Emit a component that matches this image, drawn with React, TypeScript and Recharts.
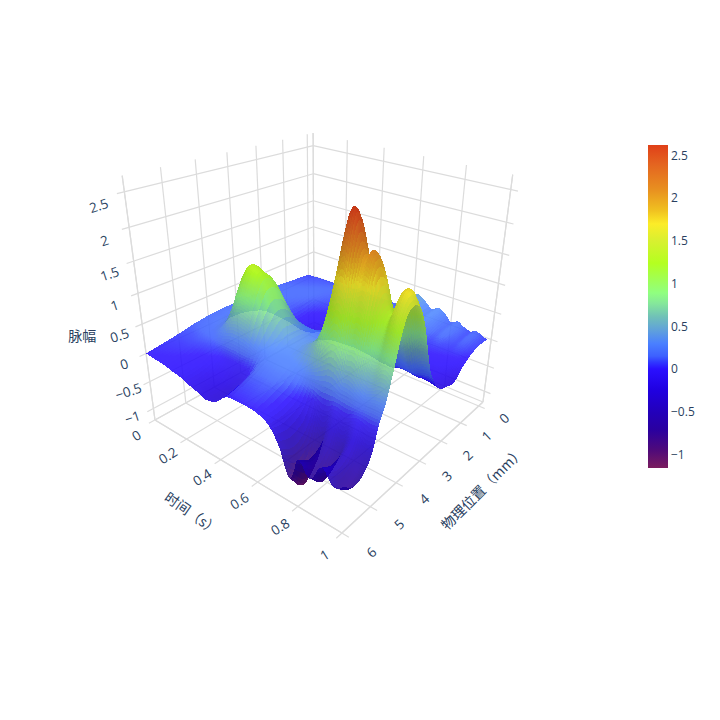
import { Bar, BarChart, Scatter, ScatterChart, XAxis, YAxis } from 'recharts'

// grid of the surface: rows follow times, columns follow positions
const times = [0, 0.05, 0.1, 0.15, 0.2, 0.24, 0.27, 0.3, 0.34, 0.4, 0.46, 0.52, 0.58, 0.64, 0.68, 0.72, 0.74, 0.76, 0.78, 0.8, 0.82, 0.84, 0.86, 0.88, 0.9, 0.92, 0.94, 0.96, 0.98, 1]
const positions = [0, 0.4, 0.8, 1.2, 1.6, 2, 2.4, 2.8, 3, 3.2, 3.4, 3.6, 3.8, 4, 4.2, 4.4, 4.6, 4.8, 5, 5.2, 5.6, 6]
const amplitude = [
  [.08, .1, .12, .14, .15, .16, .18, .18, .18, .18, .18, .18, .17, .17, .15, .14, .12, .1, .08, .06, .03, 0],
  [.09, .11, .13, .15, .16, .17, .18, .19, .2, .2, .2, .21, .2, .2, .18, .16, .14, .1, .08, .05, .02, -.02],
  [.1, .12, .14, .16, .16, .16, .18, .2, .2, .22, .23, .24, .24, .24, .22, .19, .16, .12, .08, .05, 0, -.03],
  [.1, .13, .15, .16, .15, .14, .16, .19, .22, .25, .3, .34, .36, .36, .3, .25, .19, .12, .06, .01, -.04, -.07],
  [.11, .14, .15, .15, .13, .1, .12, .16, .26, .4, .62, .78, .86, .86, .66, .48, .3, .11, .03, -.03, -.08, -.1],
  [.12, .15, .14, .12, .07, .03, .05, .14, .3, .52, .82, 1.06, 1.18, 1.2, 1.02, .74, .42, .1, -.02, -.1, -.16, -.15],
  [.13, .15, .13, .09, .01, -.06, -.03, .14, .32, .58, .9, 1.17, 1.31, 1.33, 1.12, .82, .46, .1, -.05, -.15, -.22, -.18],
  [.14, .15, .13, .07, -.03, -.1, -.06, .12, .3, .56, .86, 1.12, 1.26, 1.28, 1.08, .8, .45, .1, -.07, -.18, -.26, -.21],
  [.15, .16, .13, .06, -.04, -.13, -.09, .1, .3, .54, .85, 1.08, 1.18, 1.18, 1, .74, .42, .09, -.1, -.22, -.3, -.26],
  [.14, .16, .13, .09, .01, -.04, 0, .14, .28, .4, .55, .68, .74, .72, .6, .46, .3, .12, -.04, -.12, -.2, -.2],
  [.13, .15, .14, .14, .12, .12, .16, .2, .26, .3, .36, .42, .44, .44, .38, .33, .28, .24, .18, .12, .04, -.02],
  [.13, .16, .17, .18, .18, .18, .2, .22, .24, .27, .31, .34, .36, .36, .34, .31, .28, .26, .2, .14, .07, 0],
  [.18, .22, .2, .16, .16, .14, .17, .2, .23, .3, .36, .42, .45, .46, .41, .36, .29, .26, .2, .14, .07, 0],
  [.44, .46, .42, .2, .12, .1, .12, .17, .24, .37, .52, .66, .74, .76, .66, .5, .34, .2, .08, .02, -.04, -.05],
  [.38, .38, .34, .16, .09, .05, .08, .15, .28, .52, .8, 1.06, 1.22, 1.25, 1.05, .78, .45, .15, -.03, -.12, -.19, -.16],
  [.26, .26, .23, .11, .03, -.03, 0, .13, .33, .73, 1.22, 1.67, 1.93, 1.98, 1.65, 1.16, .61, .1, -.23, -.42, -.53, -.41],
  [.3, .3, .26, .09, .02, -.06, -.03, .12, .36, .84, 1.43, 1.98, 2.3, 2.37, 1.96, 1.37, .7, .07, -.43, -.71, -.87, -.65],
  [.32, .32, .28, .07, -.01, -.08, -.05, .11, .38, .92, 1.59, 2.21, 2.55, 2.62, 2.19, 1.52, .77, .06, -.56, -.91, -1.1, -.81],
  [.28, .28, .24, .07, -.02, -.09, -.06, .11, .37, .9, 1.55, 2.15, 2.5, 2.57, 2.13, 1.48, .75, .07, -.47, -.78, -.95, -.7],
  [.22, .22, .19, .06, -.03, -.1, -.07, .1, .36, .86, 1.4, 1.9, 2.16, 2.2, 1.82, 1.27, .65, .09, -.25, -.45, -.57, -.43],
  [.14, .14, .12, .05, -.03, -.1, -.05, .14, .44, .92, 1.42, 1.8, 2, 1.98, 1.6, 1.05, .5, .09, -.27, -.48, -.61, -.46],
  [.18, .18, .15, .05, -.03, -.1, -.04, .16, .48, 1, 1.55, 1.93, 2.12, 2.08, 1.65, 1.08, .5, .08, -.38, -.65, -.8, -.59],
  [.2, .2, .17, .05, -.04, -.11, -.04, .16, .47, .97, 1.5, 1.85, 2.02, 1.97, 1.56, 1, .46, .07, -.41, -.68, -.83, -.62],
  [.15, .15, .12, .04, -.05, -.13, -.05, .15, .42, .85, 1.27, 1.56, 1.68, 1.6, 1.25, .8, .38, .08, -.32, -.55, -.68, -.51],
  [.12, .12, .1, .03, -.06, -.14, -.06, .14, .38, .76, 1.1, 1.33, 1.42, 1.33, 1.04, .66, .32, .09, -.2, -.37, -.47, -.36],
  [.1, .1, .08, .02, -.07, -.15, -.07, .13, .36, .72, 1.03, 1.24, 1.31, 1.23, .96, .62, .3, .09, -.19, -.35, -.45, -.35],
  [.14, .14, .11, .01, -.09, -.17, -.07, .2, .54, .95, 1.26, 1.45, 1.48, 1.38, 1.07, .68, .33, .09, -.27, -.48, -.61, -.46],
  [.13, .13, .1, 0, -.13, -.2, -.08, .24, .66, 1.12, 1.45, 1.66, 1.7, 1.58, 1.22, .78, .36, .08, -.34, -.58, -.72, -.54],
  [.09, .09, .06, -.03, -.18, -.22, -.1, .26, .68, 1.14, 1.47, 1.67, 1.7, 1.58, 1.22, .78, .36, .08, -.33, -.56, -.7, -.53],
  [.07, .07, .03, -.08, -.25, -.22, -.12, .24, .62, 1.05, 1.36, 1.5, 1.52, 1.42, 1.1, .7, .33, .09, -.27, -.48, -.61, -.46],
]

const timeTicks = [0, 0.2, 0.4, 0.6, 0.8, 1]
const positionTicks = [0, 1, 2, 3, 4, 5, 6]
const amplitudeTicks = [-1, -0.5, 0, 0.5, 1, 1.5, 2, 2.5]
const colorZ = [-1.16, -0.95, -0.71, -0.52, -0.25, 0, 0.08, 0.15, 0.3, 0.45, 0.61, 0.77, 0.89, 1.24, 1.5, 1.7, 1.86, 2.1, 2.4, 2.62]
const colorHex = ['#7a1c5e', '#4f0a7a', '#2a00a0', '#2300b8', '#2000e0', '#2a10ff', '#3038ff', '#3d60ff', '#4a80ff', '#5fa0dc', '#70c0b8', '#85e89a', '#90ff80', '#b4ff20', '#d8f030', '#fcec28', '#f0c020', '#e89020', '#e46420', '#e04018']

const TICK_FONT = '"Open Sans", sans-serif'
const CJK_FONT = '"Noto Sans CJK SC", "Open Sans", sans-serif'
const INK = '#2a3f5f'
const GRID = '#dcdcdc'
const STEPS_T = 3
const STEPS_P = 8
const OPACITY = 0.88

const sOf = (t: number) => t
const rOf = (p: number) => 0.04 + 0.16 * p
const qOf = (z: number) => (z + 1.22) / 3.94

// camera fitted on the corners of the box
function project(s: number, r: number, q: number) {
  const w = 1 - 0.1486 * s - 0.2083 * r - 0.1313 * q
  return {
    x: (97.2 * s - 191.3 * r - 42 * q + 314) / w,
    y: (10.3 * s + 0.5 * r - 216.5 * q + 332) / w,
    w,
  }
}

const rgbStops = colorHex.map(h => [1, 3, 5].map(i => parseInt(h.slice(i, i + 2), 16)))
function colorAt(z: number, shade: number) {
  let i = 0
  while (i < colorZ.length - 2 && z > colorZ[i + 1]) i++
  const k = Math.max(0, Math.min(1, (z - colorZ[i]) / (colorZ[i + 1] - colorZ[i])))
  const c = rgbStops[i].map((v, n) => Math.min(255, Math.round((v + (rgbStops[i + 1][n] - v) * k) * shade)))
  return `rgb(${c[0]},${c[1]},${c[2]})`
}

// lighting per grid node
const shades = amplitude.map((row, i) =>
  row.map((_, j) => {
    const i0 = Math.max(0, i - 1), i1 = Math.min(times.length - 1, i + 1)
    const j0 = Math.max(0, j - 1), j1 = Math.min(positions.length - 1, j + 1)
    const ds = (qOf(amplitude[i1][j]) - qOf(amplitude[i0][j])) / (sOf(times[i1]) - sOf(times[i0]))
    const dr = (qOf(amplitude[i][j1]) - qOf(amplitude[i][j0])) / (rOf(positions[j1]) - rOf(positions[j0]))
    const len = Math.hypot(ds, dr, 1)
    const dot = (-ds * 0.25 - dr * 0.25 + 0.93) / len
    return 0.74 + 0.3 * Math.max(0, dot)
  }),
)

// curved patch between grid values, same idea as a smooth line type on a Line
function cubic(xs: number[], value: (k: number) => number, i: number, u: number) {
  const h = xs[i + 1] - xs[i]
  const slope = (k: number) => {
    const a = Math.max(0, k - 1), b = Math.min(xs.length - 1, k + 1)
    return (value(b) - value(a)) / (xs[b] - xs[a])
  }
  const u2 = u * u, u3 = u2 * u
  return (2 * u3 - 3 * u2 + 1) * value(i) + (u3 - 2 * u2 + u) * slope(i) * h + (3 * u2 - 2 * u3) * value(i + 1) + (u3 - u2) * slope(i + 1) * h
}
const patchZ = (i: number, j: number, u: number, v: number) =>
  cubic(times, k => cubic(positions, l => amplitude[k][l], j, v), i, u)

const facets: any[] = []
for (let i = 0; i < times.length - 1; i++) {
  for (let j = 0; j < positions.length - 1; j++) {
    const verts: any[][] = []
    for (let a = 0; a <= STEPS_T; a++) {
      verts.push([])
      for (let b = 0; b <= STEPS_P; b++) {
        const u = a / STEPS_T, v = b / STEPS_P
        const z = patchZ(i, j, u, v)
        const t = times[i] + (times[i + 1] - times[i]) * u
        const p = positions[j] + (positions[j + 1] - positions[j]) * v
        const shade = (shades[i][j] * (1 - u) + shades[i + 1][j] * u) * (1 - v) + (shades[i][j + 1] * (1 - u) + shades[i + 1][j + 1] * u) * v
        verts[a].push({ ...project(sOf(t), rOf(p), qOf(z)), z, shade })
      }
    }
    for (let a = 0; a < STEPS_T; a++) {
      for (let b = 0; b < STEPS_P; b++) {
        const c = [verts[a][b], verts[a + 1][b], verts[a + 1][b + 1], verts[a][b + 1]]
        const mean = (key: string) => c.reduce((s, n) => s + n[key], 0) / 4
        facets.push({ x: mean('x'), y: mean('y'), corners: c, fill: colorAt(mean('z'), mean('shade')), depth: mean('w') })
      }
    }
  }
}
facets.sort((a, b) => b.depth - a.depth)

const seg = (a: number[], b: number[]) => {
  const p = project(a[0], a[1], a[2])
  const e = project(b[0], b[1], b[2])
  return { x: p.x, y: p.y, dx: e.x - p.x, dy: e.y - p.y }
}
const gridLines = [
  ...timeTicks.flatMap(t => [seg([sOf(t), 0, 0], [sOf(t), 1.03, 0]), seg([sOf(t), 0, 0], [sOf(t), 0, 1])]),
  ...positionTicks.flatMap(p => [seg([0, rOf(p), 0], [1.03, rOf(p), 0]), seg([0, rOf(p), 0], [0, rOf(p), 1])]),
  ...amplitudeTicks.flatMap(z => [seg([0, 0, qOf(z)], [0, 1.03, qOf(z)]), seg([0, 0, qOf(z)], [1.03, 0, qOf(z)])]),
  seg([0, 1, 0], [0, 1, 1]),
  seg([1, 0, 0], [1, 0, 1]),
  seg([0, 0, 0], [0, 0, 1]),
  seg([0, 0, 0], [0, 1, 0]),
  seg([0, 0, 0], [1, 0, 0]),
  seg([1, 0, 0], [1, 1, 0]),
  seg([0, 1, 0], [1, 1, 0]),
]

const fmt = (v: number) => String(v).replace('-', '\u2212')
const at = (s: number, r: number, q: number, dx = 0, dy = 0) => {
  const p = project(s, r, q)
  return { x: p.x + dx, y: p.y + dy }
}
const labels = [
  ...amplitudeTicks.map(z => ({ ...at(0, 1.1, qOf(z), 0, qOf(z) * 11 - 3), text: fmt(z), angle: -18, size: 13.5, font: TICK_FONT })),
  ...timeTicks.map(t => ({ ...at(sOf(t), 1.1, 0, 2, 4), text: fmt(t), angle: -32, size: 13.5, font: TICK_FONT })),
  ...positionTicks.map(p => ({ ...at(1.12, rOf(p), 0, 1, 2), text: fmt(p), angle: -43, size: 13.5, font: TICK_FONT })),
  { ...at(0, 1.38, qOf(0.5), 34, -29), text: '脉幅', angle: 0, size: 14, font: CJK_FONT },
  { ...at(0.56, 1.27, 0, 0, -6), text: '时间（s）', angle: 35, size: 14, font: CJK_FONT },
  { ...at(1.27, 0.68, 0, 23, -28), text: '物理位置（mm）', angle: -45, size: 14, font: CJK_FONT },
]

function SurfaceFacet({ cx, cy, payload }: any) {
  const ox = cx - payload.x
  const oy = cy - payload.y
  return (
    <polygon
      points={payload.corners.map((n: any) => `${(n.x + ox).toFixed(2)},${(n.y + oy).toFixed(2)}`).join(' ')}
      fill={payload.fill}
      fillOpacity={OPACITY}
      shapeRendering="crispEdges"
    />
  )
}

function GridSegment({ cx, cy, payload }: any) {
  return <line x1={cx} y1={cy} x2={cx + payload.dx} y2={cy + payload.dy} stroke={GRID} strokeWidth={1.2} />
}

function AxisText({ cx, cy, payload }: any) {
  return (
    <text
      x={cx}
      y={cy}
      textAnchor="middle"
      dominantBaseline="central"
      transform={`rotate(${payload.angle} ${cx} ${cy})`}
      fontFamily={payload.font}
      fontSize={payload.size}
      fill={INK}
    >
      {payload.text}
    </text>
  )
}

const zMin = -1.159
const zMax = 2.623
const barData = [{ name: 'colorbar', range: [zMin, zMax] }]
const barTicks = [-1, -0.5, 0, 0.5, 1, 1.5, 2, 2.5]
const barStops = colorZ.map((z, i) => ({ z, color: colorHex[i] })).reverse()

export default function App() {
  return (
    <div style={{ position: 'absolute', left: 0, top: 0, width: 720, height: 720, background: '#fff', overflow: 'hidden' }}>
      <style>{`.surface-layer{filter:blur(0.45px)}`}</style>
      <ScatterChart width={720} height={720} margin={{ top: 0, right: 0, bottom: 0, left: 0 }}>
        <XAxis type="number" dataKey="x" domain={[0, 720]} hide allowDataOverflow />
        <YAxis type="number" dataKey="y" domain={[0, 720]} reversed hide allowDataOverflow />
        <Scatter data={gridLines} shape={GridSegment} isAnimationActive={false} />
        <Scatter className="surface-layer" data={facets} shape={SurfaceFacet} isAnimationActive={false} />
        <Scatter data={labels} shape={AxisText} isAnimationActive={false} />
      </ScatterChart>
      <div style={{ position: 'absolute', left: 648, top: 145 }}>
        <BarChart width={60} height={323} data={barData} margin={{ top: 0, right: 0, bottom: 0, left: 0 }} barCategoryGap={0}>
          <defs>
            <linearGradient id="colorbar-grad" x1="0" y1="0" x2="0" y2="1">
              {barStops.map(s => (
                <stop key={s.z} offset={`${Math.max(0, ((zMax - s.z) / (zMax - zMin)) * 100)}%`} stopColor={s.color} />
              ))}
            </linearGradient>
          </defs>
          <XAxis dataKey="name" hide />
          <YAxis
            orientation="right"
            type="number"
            width={40}
            domain={[zMin, zMax]}
            ticks={barTicks}
            tickFormatter={fmt}
            tickLine={false}
            axisLine={false}
            tickSize={0}
            tickMargin={3}
            interval={0}
            tick={{ fontFamily: TICK_FONT, fontSize: 12, fill: INK }}
          />
          <Bar dataKey="range" fill="url(#colorbar-grad)" isAnimationActive={false} />
        </BarChart>
      </div>
    </div>
  )
}
